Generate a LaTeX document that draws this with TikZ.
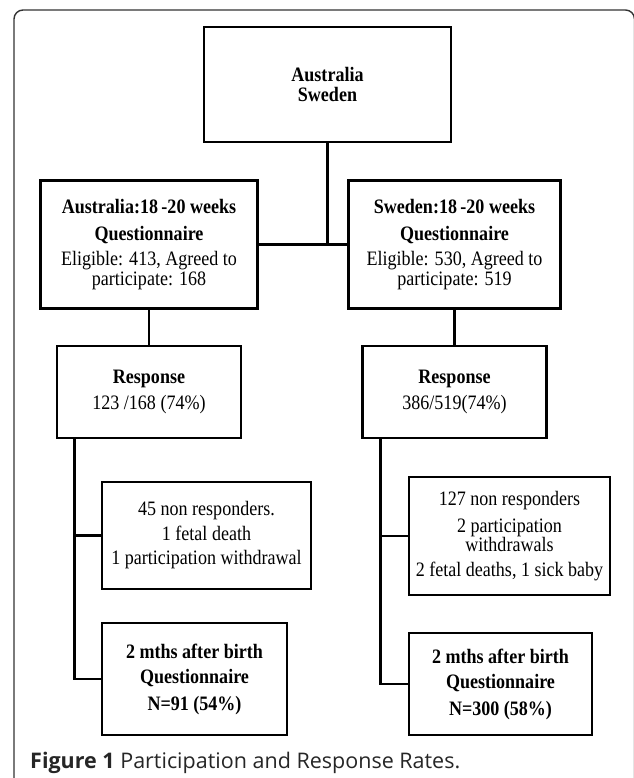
\documentclass[tikz,border=0pt]{standalone}
\usepackage{fontspec}
\setmainfont{Liberation Serif}[FakeStretch=0.88]
\newfontfamily\capfont{Open Sans}
\usepackage{tikz}
\usetikzlibrary{positioning}

\begin{document}
\begin{tikzpicture}[x=1pt,y=-1pt,
  box/.style={draw,line width=2.8pt,rectangle,align=center,inner sep=2pt,
    font=\fontsize{20.5}{19.5}\selectfont},
  link/.style={draw,line width=2.8pt},
  frame/.style={draw=black!80,line width=1.4pt,rounded corners=9pt}]
  \useasboundingbox (0,0) rectangle (633,778);
  \path[frame] (14,800) -- (14,10) -- (634.5,10) -- (634.5,800);

  % Both countries
  \node[box,minimum width=247pt,minimum height=115pt] (top) at (327.5,84.5)
    {\bfseries Australia\\ \bfseries Sweden};

  \begin{scope}
	  % Australia
	  \node[box,minimum width=217pt,minimum height=128pt] (A quest) at (149,244.5)
	    {\bfseries Australia:18\,-20 weeks\\[7pt] \bfseries Questionnaire\\[6pt]
	     Eligible: 413, Agreed to\\ participate: 168};
	  \node[box,minimum width=184pt,minimum height=92pt] (A resp) at (149,392)
	    {\bfseries Response\\[7pt] 123 /168 (74\%)};
	  \node[box,minimum width=209pt,minimum height=107pt] (A non) at (206.5,535.5)
	    {45 non responders.\\[5pt] 1 fetal death\\[5pt] 1 participation withdrawal};
	  \node[box,minimum width=185pt,minimum height=112pt] (A after) at (194.5,679)
	    {\bfseries 2 mths after birth\\[6pt] \bfseries Questionnaire\\[7pt] \bfseries N=91 (54\%)};
	  \coordinate (A split) at ([xshift=19pt]A resp.south west);
  \end{scope}
  \begin{scope}
	  % Sweden
	  \node[box,minimum width=212pt,minimum height=128pt] (S quest) at (454.5,244.5)
	    {\bfseries Sweden:18\,-20 weeks\\[7pt] \bfseries Questionnaire\\[6pt]
	     Eligible: 530, Agreed to\\ participate: 519};
	  \node[box,minimum width=184pt,minimum height=92pt] (S resp) at (454.5,392)
	    {\bfseries Response\\[7pt] 386/519(74\%)\hspace{18pt}};
	  \node[box,minimum width=201pt,minimum height=118pt] (S non) at (509.5,536)
	    {127 non responders\\[7pt] 2 participation\\ withdrawals\\[5pt] 2 fetal deaths, 1 sick baby};
	  \node[box,minimum width=183pt,minimum height=102pt] (S after) at (500.5,684)
	    {\bfseries 2 mths after birth\\[6pt] \bfseries Questionnaire\\[7pt] \bfseries N=300 (58\%)};
	  \coordinate (S split) at ([xshift=19.5pt]S resp.south west);
  \end{scope}

  % Connecting lines
  \path[link] (top) -- (top |- A quest.east);
  \path
  (A quest) edge[link] (S quest)
  (A quest) edge[link] (A resp)
  (S quest) edge[link] (S resp);
  \path[link] (A split) |- (A non);
  \path[link] (A split) |- (A after);
  \path[link] (S split) |- (S non);
  \path[link] (S split) |- (S after);

  % Caption
  \node[anchor=base west,inner sep=0pt,text=black!85,font=\capfont\fontsize{21.5}{24}\selectfont]
    (caption) at (30,768) {\bfseries Figure 1\mdseries\ Participation and Response Rates.};
\end{tikzpicture}
\end{document}
